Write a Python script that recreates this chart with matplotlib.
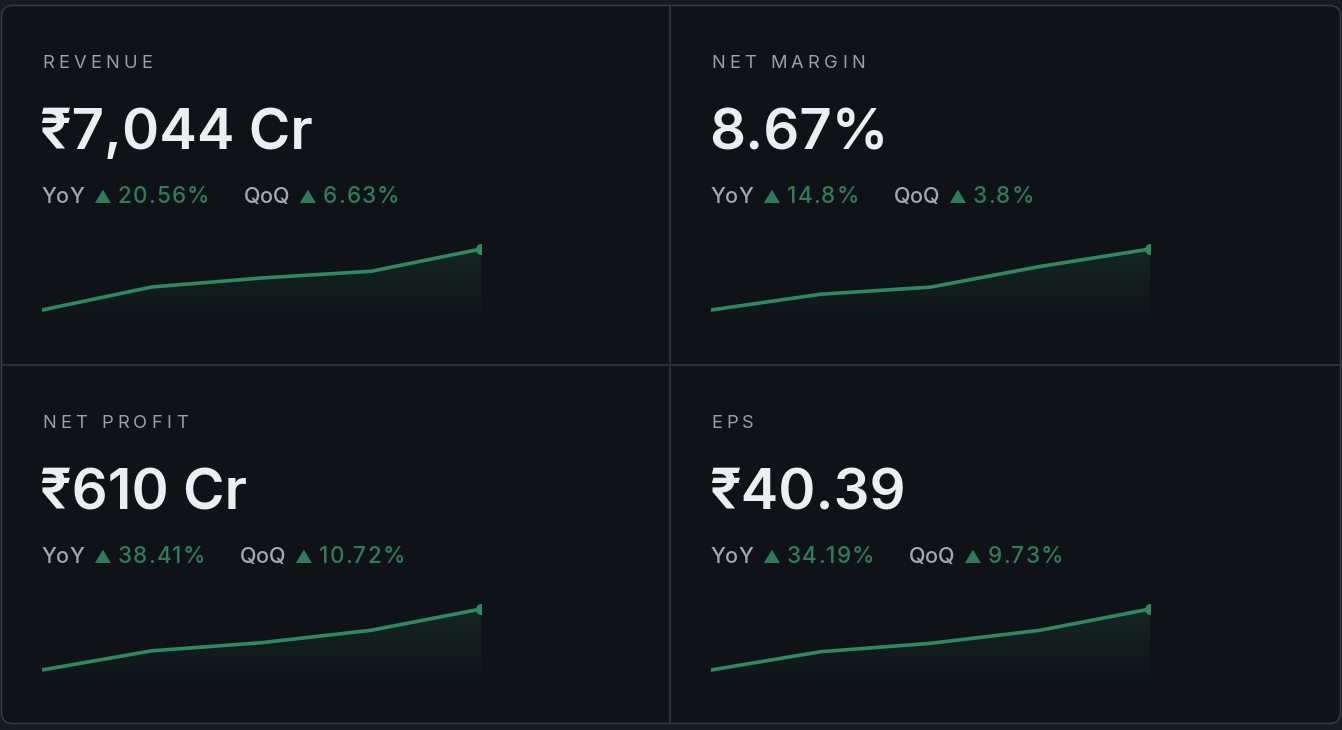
import matplotlib
matplotlib.use('Agg')
import matplotlib.pyplot as plt
import numpy as np
from matplotlib.patches import FancyBboxPatch, Polygon
from matplotlib.font_manager import FontProperties

# ---------------- data ----------------
labels = ["REVENUE", "NET MARGIN", "NET PROFIT", "EPS"]
values = ["₹7,044 Cr", "8.67%", "₹610 Cr", "₹40.39"]
yoy = ["20.56%", "14.8%", "38.41%", "34.19%"]
qoq = ["6.63%", "3.8%", "10.72%", "9.73%"]
revenue = [5843, 6296, 6473, 6606, 7044]
net_margin = [7.55, 7.84, 7.97, 8.35, 8.67]
net_profit = [440.7, 494.0, 516.5, 551.0, 610.0]
eps = [30.10, 33.19, 34.60, 36.81, 40.39]
series = [revenue, net_margin, net_profit, eps]

# ---------------- style ----------------
W, H, DPI = 1342, 730, 100
FAM = ['Inter', 'DejaVu Sans']
OUTER = '#161a21'
CARD = '#0f1217'
BORDER = '#383b42'
DIVIDER = '#2c3036'
LABEL_C = '#9ba0a7'
VALUE_C = '#eceef2'
META_C = '#a3a7ae'
GREEN_T = '#2e7d58'
GREEN_L = '#2e8a5e'

fig = plt.figure(figsize=(W / DPI, H / DPI), dpi=DPI, facecolor=OUTER)
ax = fig.add_axes([0, 0, 1, 1])
ax.set_xlim(0, W)
ax.set_ylim(H, 0)
ax.axis('off')
ax.patch.set_alpha(0)

card = FancyBboxPatch((1.5, 5.5), W - 3, 718, boxstyle="round,pad=0,rounding_size=11",
                      fc=CARD, ec=BORDER, lw=1.1, zorder=0)
ax.add_patch(card)
ax.plot([670, 670], [6, 723], color=DIVIDER, lw=1.5, zorder=1, solid_capstyle='butt')
ax.plot([2, W - 2], [365, 365], color=DIVIDER, lw=1.5, zorder=1, solid_capstyle='butt')

renderer = fig.canvas.get_renderer()


def text_w(s, size, weight='normal'):
    fp = FontProperties(family=FAM, size=size, weight=weight)
    w, h, d = renderer.get_text_width_height_descent(s, fp, ismath=False)
    return w


def spaced_text(x, y, s, size, color, spacing, weight='normal'):
    sp_w = text_w("a a", size, weight) - text_w("aa", size, weight)
    for ch in s:
        if ch == ' ':
            x += sp_w + spacing
            continue
        ax.text(x, y, ch, fontsize=size, family=FAM, color=color, va='baseline',
                ha='left', fontweight=weight)
        x += text_w(ch, size, weight) + spacing
    return x


def seq_text(x, y, pieces):
    for s, color, size, gap, spacing in pieces:
        x = spaced_text(x, y, s, size, color, spacing, weight='medium') + gap - spacing
    return x


col_x = [42, 711]
row_y = [0, 360]
spark_w = 439

for i in range(4):
    c, r = i % 2, i // 2
    x0, dy = col_x[c], row_y[r]
    spaced_text(x0, 68 + dy, labels[i], 13.2, LABEL_C, 4.3)
    ax.text(x0 - 2, 149 + dy, values[i], fontsize=40.6, family=FAM, color=VALUE_C,
            va='baseline', ha='left', fontweight='semibold')
    xe = seq_text(x0, 203 + dy, [("YoY", META_C, 15.5, 9, -0.4),
                                 ("▲", GREEN_T, 12.5, 7, 0),
                                 (yoy[i], GREEN_T, 16.2, 35, 1.2)])
    seq_text(xe, 203 + dy, [("QoQ", META_C, 15.5, 9, -0.4),
                            ("▲", GREEN_T, 12.5, 7, 0),
                            (qoq[i], GREEN_T, 16.2, 0, 1.2)])

    # sparkline
    s = np.array(series[i], dtype=float)
    xs = np.arange(len(s))
    top_px = 240 + dy
    sax = fig.add_axes([x0 / W, 1 - (top_px + 80) / H, spark_w / W, 80 / H])
    sax.axis('off')
    sax.patch.set_alpha(0)
    rng = s.max() - s.min()
    lo, hi = s.min() - rng * 10 / 61, s.max() + rng * 9 / 61
    sax.set_xlim(0, len(s) - 1)
    sax.set_ylim(lo, hi)
    # gradient fill
    grad = np.zeros((100, 2, 4))
    rgb = matplotlib.colors.to_rgb(GREEN_L)
    grad[..., :3] = rgb
    grad[..., 3] = np.linspace(0.17, 0.02, 100)[:, None]
    im = sax.imshow(grad, extent=(0, len(s) - 1, lo, s.max()), origin='upper',
                    aspect='auto', zorder=1)
    verts = [(0, lo)] + list(zip(xs, s)) + [(len(s) - 1, lo)]
    poly = Polygon(verts, closed=True, fc='none', ec='none', transform=sax.transData)
    sax.add_patch(poly)
    im.set_clip_path(poly)
    sax.plot(xs, s, color=GREEN_L, lw=2.6, zorder=2, solid_joinstyle='round')
    sax.plot(xs[-1], s[-1], 'o', color=GREEN_L, ms=7, zorder=3, clip_on=True)
    sax.set_xlim(0, len(s) - 1)
    sax.set_ylim(lo, hi)

fig.savefig('out.png', dpi=DPI, facecolor=OUTER)
